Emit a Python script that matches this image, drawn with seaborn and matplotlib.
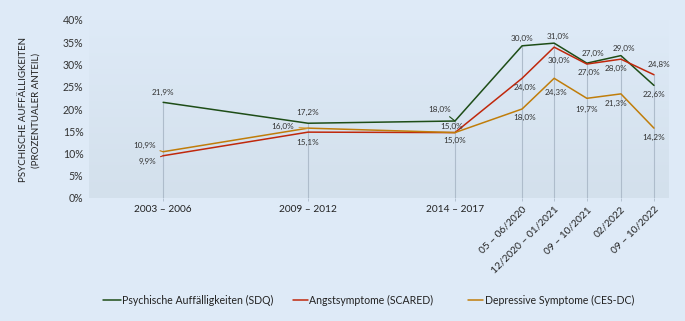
import numpy as np
import pandas as pd
import matplotlib
matplotlib.use("Agg")
import matplotlib.pyplot as plt
from matplotlib.lines import Line2D
import seaborn as sns

# ---------------- data ----------------
categories = ["2003 – 2006", "2009 – 2012", "2014 – 2017", "05 – 06/2020",
              "12/2020 – 01/2021", "09 – 10/2021", "02/2022", "09 – 10/2022"]
series_names = ["Psychische Auffälligkeiten (SDQ)", "Angstsymptome (SCARED)",
                "Depressive Symptome (CES-DC)"]
# line heights as drawn in the reference
sdq_values = [21.5, 16.8, 17.3, 34.2, 34.8, 30.3, 32.0, 25.3]
scared_values = [9.5, 14.8, 14.7, 26.9, 33.9, 30.1, 31.2, 27.7]
cesdc_values = [10.4, 15.7, 14.7, 20.0, 26.9, 22.4, 23.4, 15.7]
# data label texts as printed in the reference
sdq_labels = ["21,9%", "17,2%", "18,0%", "30,0%", "31,0%", "27,0%", "29,0%", "22,6%"]
scared_labels = ["9,9%", "15,1%", "15,0%", "24,0%", "30,0%", "27,0%", "28,0%", "24,8%"]
cesdc_labels = ["10,9%", "16,0%", "15,0%", "18,0%", "24,3%", "19,7%", "21,3%", "14,2%"]
y_ticks = [0, 5, 10, 15, 20, 25, 30, 35, 40]

# ---------------- layout / style ----------------
x_slots = [0, 4.34, 8.74, 10.75, 11.71, 12.69, 13.71, 14.7]
colors = ["#1e4d17", "#c0280c", "#c07d0a"]
bg = "#deeaf7"
font = ["Lato", "DejaVu Sans"]

sns.set_theme(style="white")
plt.rcParams["font.family"] = font

values = [sdq_values, scared_values, cesdc_values]
labels = [sdq_labels, scared_labels, cesdc_labels]
df = pd.DataFrame({
    "x": np.tile(x_slots, 3),
    "value": np.concatenate(values),
    "series": np.repeat(series_names, len(categories)),
})

W, H = 685, 321
fig = plt.figure(figsize=(W / 100, H / 100), dpi=100, facecolor=bg)
ax = fig.add_axes([89 / W, 1 - 198 / H, (669 - 89) / W, (198 - 20) / H])
xmin, xmax = -2.22, 15.15
ax.set_xlim(xmin, xmax)
ax.set_ylim(0, 40)

# plot-area gradient
grad = np.linspace(0, 1, 256).reshape(-1, 1)
top = np.array(matplotlib.colors.to_rgb("#deeaf7"))
bot = np.array(matplotlib.colors.to_rgb("#d3e0ec"))
img = top + (bot - top) * grad[:, :, None] * np.ones((1, 2, 3))
ax.imshow(img, extent=[xmin, xmax, 0, 40], aspect="auto", origin="upper", zorder=0)

# drop lines
for i, x in enumerate(x_slots):
    top_v = max(v[i] for v in values)
    ax.plot([x, x], [0, top_v], color="#aebccb", lw=0.8, zorder=1)

sns.lineplot(data=df, x="x", y="value", hue="series", hue_order=series_names,
             palette=colors, linewidth=1.1, ax=ax, legend=False, zorder=3)

# data labels: offsets in pixels
offsets = [
    [(0, 10), (0, 11), (-15, 12), (0, 7), (4, 7), (6, 10), (3, 7), (0, -9)],
    [(-16, -6), (0, -10), (-3, 6), (3, -9), (5, -13), (2, -8), (-5, -9), (5, 10)],
    [(-19, 6), (-25, 2), (0, -8), (3, -8), (2, -14), (0, -11), (-5, -10), (0, -9)],
]
leaders = {(0, 2): "#1e4d17", (1, 0): "#c0280c", (2, 0): "#c07d0a", (2, 1): "#d9a64a"}
for s in range(3):
    for i, x in enumerate(x_slots):
        dx, dy = offsets[s][i]
        kw = {}
        if (s, i) in leaders:
            kw["arrowprops"] = dict(arrowstyle="-", color=leaders[(s, i)], lw=0.8,
                                    shrinkA=1, shrinkB=0)
        ax.annotate(labels[s][i], xy=(x, values[s][i]), xytext=(dx, dy),
                    textcoords="offset pixels", ha="center", va="center",
                    fontsize=5.9, color="#333333", zorder=5, **kw)

ax.set_xticks(x_slots)
ax.set_xticklabels(categories)
for i, t in enumerate(ax.get_xticklabels()):
    if i >= 3:
        t.set_rotation(45)
        t.set_ha("right")
        t.set_rotation_mode("anchor")
ax.set_yticks(y_ticks)
ax.set_yticklabels([f"{v}%" for v in y_ticks])
ax.tick_params(axis="x", length=2, width=0.6, color="#aebccb", labelsize=7.3,
               labelcolor="#222222", pad=3, bottom=True)
ax.tick_params(axis="y", length=0, labelsize=7.6, labelcolor="#333333", pad=4)
for sp in ax.spines.values():
    sp.set_visible(False)
ax.set_xlabel("")
ax.set_ylabel("")
ax.grid(False)
fig.text(30 / W, 1 - 110 / H, "PSYCHISCHE AUFFÄLLIGKEITEN\n(PROZENTUALER ANTEIL)",
         rotation=90, ha="center", va="center", fontsize=7.05, color="#222222",
         linespacing=1.55, multialignment="center")

# legend row
leg_y = 1 - 300 / H
leg_items = [(103, 121, 122), (293, 308, 309), (468, 483, 485)]
for (x0, x1, xt), c, name in zip(leg_items, colors, series_names):
    fig.add_artist(Line2D([x0 / W, x1 / W], [leg_y, leg_y], color=c, lw=1.1,
                          transform=fig.transFigure))
    fig.text(xt / W, leg_y, name, ha="left", va="center", fontsize=7.6,
             color="#222222")

fig.savefig("out.png", dpi=100, facecolor=bg)
